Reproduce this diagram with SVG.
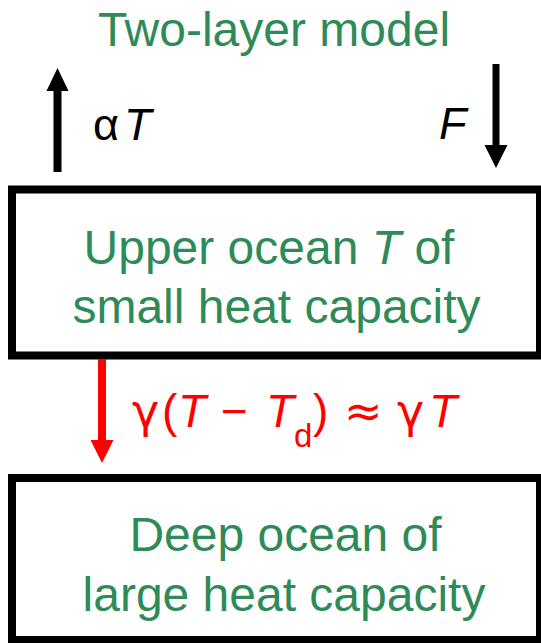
<svg xmlns="http://www.w3.org/2000/svg" width="541" height="643" viewBox="0 0 541 643">
<style>
.box{fill:#fff;stroke:#000;stroke-width:8}
.g{fill:#2e8b57;font-family:"Liberation Sans",Arial,sans-serif;font-size:48px;text-anchor:middle}
.k{fill:#000;font-family:"Liberation Sans",Arial,sans-serif;font-size:45px}
.r{fill:#f00;font-family:"Liberation Sans",Arial,sans-serif;font-size:46px}
.dv{font-family:"DejaVu Sans",sans-serif}
.i{font-style:italic}
</style>
<rect width="541" height="643" fill="#fff"/>
<text id="title" class="g" x="274" y="46">Two-layer model</text>
<g id="upper">
<rect class="box" x="12" y="189.5" width="528" height="166"/>
<text class="g" x="269" y="264">Upper ocean <tspan class="i">T</tspan> of</text>
<text class="g" x="276.5" y="323">small heat capacity</text>
</g>
<g id="deep">
<rect class="box" x="12" y="478" width="528" height="162"/>
<text class="g" x="285.5" y="551">Deep ocean of</text>
<text class="g" x="284" y="611">large heat capacity</text>
</g>
<g id="connectors">
<path d="M53.5,172 V91 H46.5 L57.5,68 L68.5,91 H61.5 V172 Z" fill="#000"/>
<path d="M492.5,64 V145 H484.5 L496,168 L507.5,145 H499.5 V64 Z" fill="#000"/>
<path d="M98,359 V440 H90.5 L102,463 L113.5,440 H106 V359 Z" fill="#f00"/>
</g>
<g id="labels">
<text class="k" x="93" y="140">α<tspan class="i" x="124">T</tspan></text>
<text class="k i" x="439" y="139">F</text>
<text class="r" y="427"><tspan class="dv" x="132">γ</tspan><tspan x="162">(</tspan><tspan class="i" x="178">T</tspan><tspan x="221">−</tspan><tspan class="i" x="266">T</tspan><tspan x="294" y="447" font-size="33">d</tspan><tspan x="313" y="427">)</tspan><tspan class="dv" x="344">≈</tspan><tspan class="dv" x="397">γ</tspan><tspan class="i" x="429">T</tspan></text>
</g>
</svg>
